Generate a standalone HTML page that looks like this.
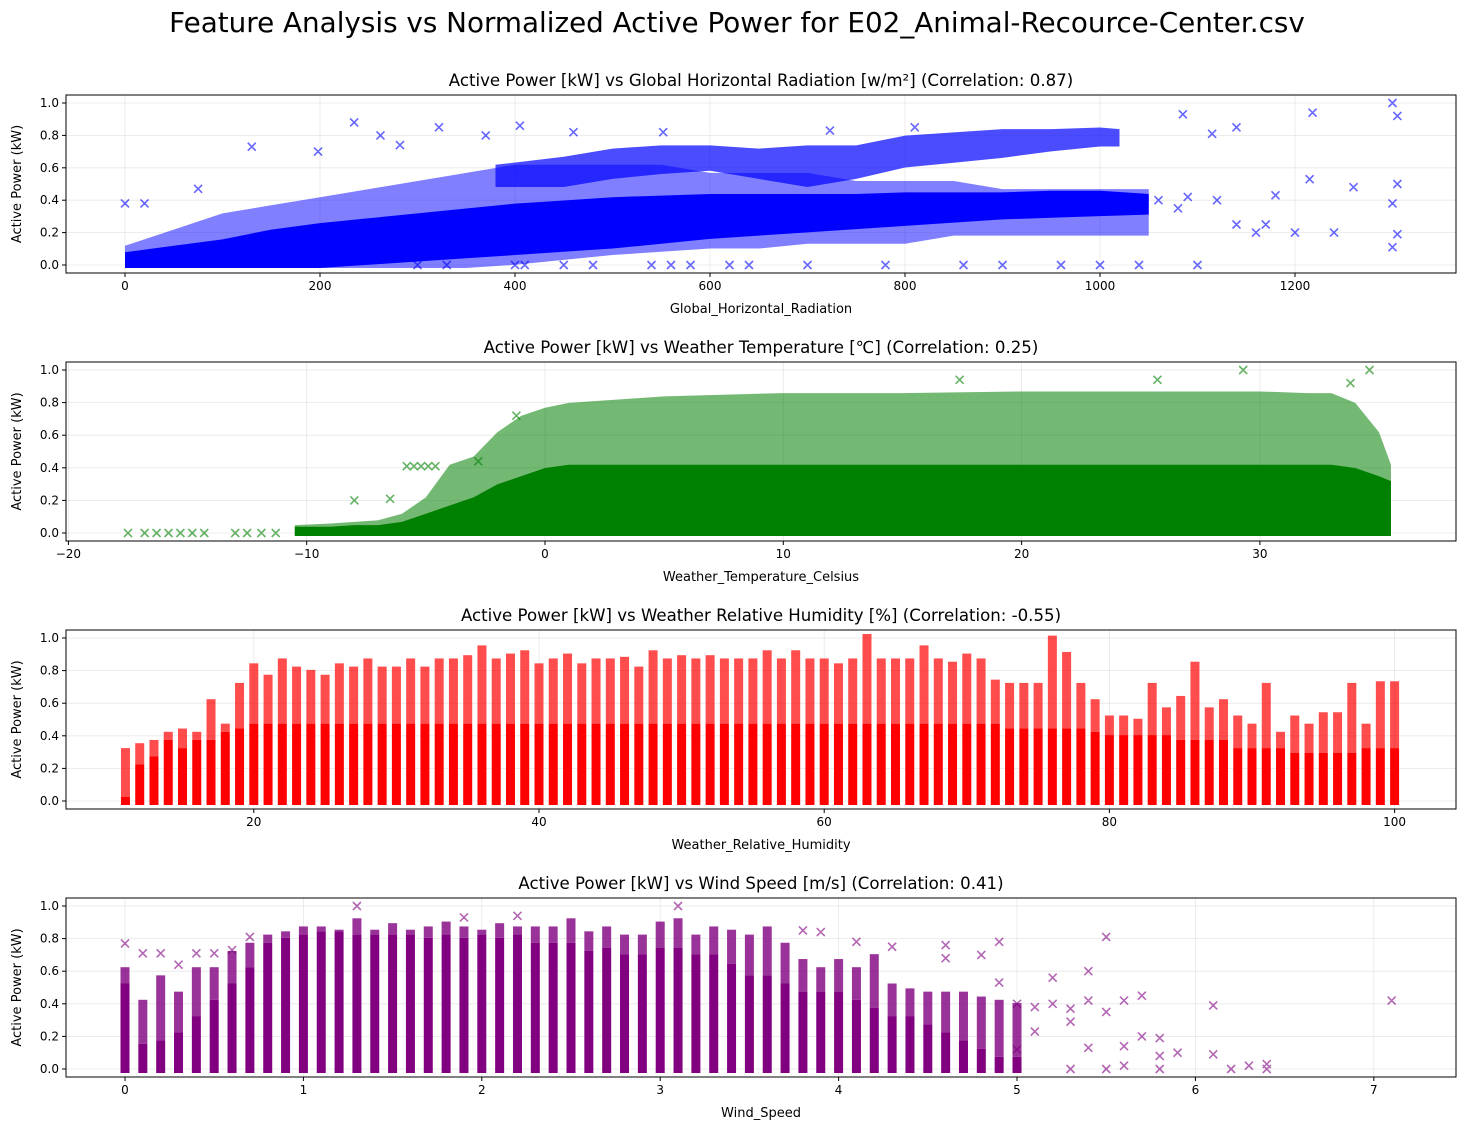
<!DOCTYPE html>
<html><head><meta charset="utf-8">
<style>
html,body{margin:0;padding:0;background:#fff;}
svg text{font-family:"DejaVu Sans","Liberation Sans",sans-serif;fill:#000;}
</style></head>
<body>
<svg id="fig" width="1466" height="1131" viewBox="0 0 1466 1131" xmlns="http://www.w3.org/2000/svg">
<text x="737" y="32" font-size="27.8" text-anchor="middle">Feature Analysis vs Normalized Active Power for E02_Animal-Recource-Center.csv</text>
</svg>
<script>
// ---------- Panel 1: Global Horizontal Radiation ----------
const radBins = [0,50,100,150,200,250,300,350,400,450,500,550,600,650,700,750,800,850,900,950,1000,1050];
const radDenseLo = [0,0,0,0,0,0.02,0.04,0.06,0.08,0.1,0.12,0.15,0.18,0.2,0.22,0.24,0.26,0.28,0.3,0.31,0.32,0.33];
const radDenseHi = [0.06,0.1,0.14,0.2,0.24,0.27,0.3,0.33,0.36,0.38,0.4,0.41,0.42,0.42,0.42,0.42,0.43,0.43,0.43,0.44,0.44,0.42];
const radSparseLo = [0,0,0,0,0,0,0,0,0.02,0.05,0.08,0.1,0.12,0.12,0.15,0.15,0.15,0.2,0.2,0.2,0.2,0.2];
const radSparseHi = [0.1,0.2,0.3,0.35,0.4,0.45,0.5,0.55,0.6,0.6,0.6,0.6,0.55,0.55,0.55,0.5,0.5,0.5,0.45,0.45,0.45,0.45];
const radClusterX = [380,450,500,550,600,650,700,750,800,850,900,950,1000,1020];
const radClusterLo = [0.5,0.5,0.55,0.58,0.6,0.55,0.5,0.55,0.62,0.65,0.68,0.72,0.75,0.75];
const radClusterHi = [0.6,0.65,0.7,0.72,0.72,0.7,0.72,0.72,0.78,0.8,0.82,0.82,0.83,0.82];
const radOutX = [0,20,75,130,198,235,262,282,322,370,405,460,552,723,810,1085,1115,1140,1300,1305,1218,1305,1300,1300,1305,1260,1215,1180,1120,1100,1200,1240,1160,1080,1140,1170,620,640,700,780,860,900,960,1000,1040,450,480,540,560,580,400,410,300,330,1060,1090];
const radOutY = [0.38,0.38,0.47,0.73,0.7,0.88,0.8,0.74,0.85,0.8,0.86,0.82,0.82,0.83,0.85,0.93,0.81,0.85,1.0,0.92,0.94,0.5,0.38,0.11,0.19,0.48,0.53,0.43,0.4,0.0,0.2,0.2,0.2,0.35,0.25,0.25,0,0,0,0,0,0,0,0,0,0,0,0,0,0,0,0,0,0,0.4,0.42];

// ---------- Panel 2: Temperature ----------
const tmpBins = [-10.5,-9,-8,-7,-6,-5,-4,-3,-2,-1,0,1,3,5,10,15,20,25,30,32,33,34,35,35.5];
const tmpDenseTop = [0.02,0.02,0.03,0.03,0.05,0.1,0.15,0.2,0.28,0.33,0.38,0.4,0.4,0.4,0.4,0.4,0.4,0.4,0.4,0.4,0.4,0.38,0.33,0.3];
const tmpSparseTop = [0.03,0.04,0.05,0.06,0.1,0.2,0.4,0.45,0.6,0.7,0.75,0.78,0.8,0.82,0.84,0.84,0.85,0.85,0.85,0.84,0.84,0.78,0.6,0.4];
const tmpOutX = [-17.5,-16.8,-16.3,-15.8,-15.3,-14.8,-14.3,-13,-12.5,-11.9,-11.3,-5.8,-5.5,-5.2,-4.9,-4.6,-8,-6.5,-2.8,-1.2,17.4,25.7,34.6,33.8,29.3];
const tmpOutY = [0,0,0,0,0,0,0,0,0,0,0,0.41,0.41,0.41,0.41,0.41,0.2,0.21,0.44,0.72,0.94,0.94,1.0,0.92,1.0];

// ---------- Panel 3: Humidity ----------
const humCats = [];
for (let h = 11; h <= 100; h++) humCats.push(h);
const humDenseTop = [0,0.2,0.25,0.35,0.3,0.35,0.35,0.4,0.42,0.45,0.45,0.45,0.45,0.45,0.45,0.45,0.45,0.45,0.45,0.45,0.45,0.45,0.45,0.45,0.45,0.45,0.45,0.45,0.45,0.45,0.45,0.45,0.45,0.45,0.45,0.45,0.45,0.45,0.45,0.45,0.45,0.45,0.45,0.45,0.45,0.45,0.45,0.45,0.45,0.45,0.45,0.45,0.45,0.45,0.45,0.45,0.45,0.45,0.45,0.45,0.45,0.45,0.42,0.42,0.42,0.42,0.42,0.42,0.4,0.38,0.38,0.38,0.38,0.38,0.35,0.35,0.35,0.35,0.3,0.3,0.3,0.3,0.27,0.27,0.27,0.27,0.27,0.3,0.3,0.3];
const humSparseTop = [0.3,0.33,0.35,0.4,0.42,0.4,0.6,0.45,0.7,0.82,0.75,0.85,0.8,0.78,0.75,0.82,0.8,0.85,0.8,0.8,0.85,0.8,0.85,0.85,0.87,0.93,0.85,0.88,0.9,0.82,0.85,0.88,0.82,0.85,0.85,0.86,0.8,0.9,0.85,0.87,0.85,0.87,0.85,0.85,0.85,0.9,0.85,0.9,0.85,0.85,0.82,0.85,1.0,0.85,0.85,0.85,0.93,0.85,0.83,0.88,0.85,0.72,0.7,0.7,0.7,0.99,0.89,0.7,0.6,0.5,0.5,0.48,0.7,0.55,0.62,0.83,0.55,0.6,0.5,0.45,0.7,0.4,0.5,0.45,0.52,0.52,0.7,0.45,0.71,0.71];

// ---------- Panel 4: Wind ----------
const windCats = [];
for (let i = 0; i <= 50; i++) windCats.push(i / 10);
const windDenseTop = [0.5,0.13,0.15,0.2,0.3,0.4,0.5,0.6,0.75,0.78,0.8,0.82,0.82,0.8,0.8,0.8,0.8,0.78,0.8,0.78,0.8,0.78,0.8,0.75,0.75,0.75,0.7,0.72,0.68,0.68,0.72,0.72,0.68,0.68,0.62,0.55,0.55,0.5,0.45,0.45,0.45,0.4,0.35,0.3,0.3,0.25,0.2,0.15,0.1,0.05,0.05];
const windSparseTop = [0.6,0.4,0.55,0.45,0.6,0.6,0.7,0.75,0.8,0.82,0.85,0.85,0.83,0.9,0.83,0.87,0.83,0.85,0.88,0.85,0.83,0.87,0.85,0.85,0.85,0.9,0.82,0.85,0.8,0.8,0.88,0.9,0.8,0.85,0.83,0.8,0.85,0.75,0.65,0.6,0.65,0.6,0.68,0.5,0.47,0.45,0.45,0.45,0.42,0.4,0.38];
const windOutX = [0,0.1,0.2,0.3,0.4,0.5,0.6,0.7,1.3,3.1,1.9,2.2,3.8,3.9,4.1,4.3,4.6,4.6,4.8,4.9,4.9,5.0,5.1,5.2,5.2,5.3,5.4,5.4,5.5,5.5,5.6,5.7,5.6,5.8,5.8,5.9,6.1,6.1,6.2,6.3,6.4,6.4,7.1,5.3,5.1,5.0,5.5,5.6,5.7,5.8,5.4,5.3];
const windOutY = [0.77,0.71,0.71,0.64,0.71,0.71,0.73,0.81,1.0,1.0,0.93,0.94,0.85,0.84,0.78,0.75,0.76,0.68,0.7,0.78,0.53,0.4,0.38,0.56,0.4,0.37,0.6,0.42,0.81,0.35,0.42,0.45,0.14,0.19,0.08,0.1,0.39,0.09,0.0,0.02,0.03,0.0,0.42,0.29,0.23,0.12,0.0,0.02,0.2,0.0,0.13,0.0];

const yTicks = [0, 0.2, 0.4, 0.6, 0.8, 1.0];
const yTickLabels = ["0.0","0.2","0.4","0.6","0.8","1.0"];

const NS = "http://www.w3.org/2000/svg";
const svg = document.getElementById('fig');
function mk(tag, attrs, parent) {
  const e = document.createElementNS(NS, tag);
  for (const k in attrs) e.setAttribute(k, attrs[k]);
  (parent || svg).appendChild(e);
  return e;
}
const L = 66, R = 1456;

function makePanel(p) {
  const g = mk('g', {});
  
  
  p.xTicks.forEach(v => {
    const gl = mk('line', {x1: p.x(v), x2: p.x(v), y1: p.top, y2: p.bottom, stroke: '#b0b0b0', 'stroke-opacity': 0.3, 'stroke-width': 0.8}, g);
    
    
  });
  yTicks.forEach(v => {
    const gl = mk('line', {x1: L, x2: R, y1: p.y(v), y2: p.y(v), stroke: '#b0b0b0', 'stroke-opacity': 0.3, 'stroke-width': 0.8}, g);
    
    
  });
  const marks = mk('g', {}, g);
  
  
  p.draw(marks, p);
  if (p.outX) {
    let d = '';
    for (let i = 0; i < p.outX.length; i++) {
      const cx = p.x(p.outX[i]), cy = p.y(p.outY[i]);
      d += `M${cx-4},${cy-4}L${cx+4},${cy+4}M${cx-4},${cy+4}L${cx+4},${cy-4}`;
    }
    const o = mk('path', {d: d, stroke: p.color, 'stroke-opacity': 0.6, 'stroke-width': 1.6, fill: 'none'}, marks);
    
    
  }
  const fr = mk('rect', {x: L, y: p.top, width: R - L, height: p.bottom - p.top, fill: 'none', stroke: '#000', 'stroke-width': 1}, g);
  
  
  p.xTicks.forEach((v, i) => {
    mk('line', {x1: p.x(v), x2: p.x(v), y1: p.bottom, y2: p.bottom + 4, stroke: '#000'}, g);
    const t = mk('text', {x: p.x(v), y: p.bottom + 17, 'font-size': 12, 'text-anchor': 'middle'}, g);
    t.textContent = p.xLabels[i];
    
    
  });
  yTicks.forEach((v, i) => {
    mk('line', {x1: L - 4, x2: L, y1: p.y(v), y2: p.y(v), stroke: '#000'}, g);
    const t = mk('text', {x: L - 7, y: p.y(v) + 4, 'font-size': 12, 'text-anchor': 'end'}, g);
    t.textContent = yTickLabels[i];
    
    
  });
  const title = mk('text', {x: (L + R) / 2, y: p.top - 9, 'font-size': 16.6, 'text-anchor': 'middle'}, g);
  title.textContent = p.title;
  
  
  const xl = mk('text', {x: (L + R) / 2, y: p.bottom + 40, 'font-size': 13, 'text-anchor': 'middle'}, g);
  xl.textContent = p.xTitle;
  
  
  const yc = (p.top + p.bottom) / 2;
  const yl = mk('text', {x: 21, y: yc, 'font-size': 13, 'text-anchor': 'middle', transform: `rotate(-90 21 ${yc})`}, g);
  yl.textContent = 'Active Power (kW)';
  
  
}

function band(parent, p, xs, lo, hi, opacity, name) {
  let pts = [];
  for (let i = 0; i < xs.length; i++) pts.push(`${p.x(xs[i])},${p.y(hi[i]) - 3}`);
  for (let i = xs.length - 1; i >= 0; i--) pts.push(`${p.x(xs[i])},${p.y(lo[i]) + 3}`);
  const e = mk('polygon', {points: pts.join(' '), fill: p.color, 'fill-opacity': opacity, stroke: 'none'}, parent);
  
  
}
function columns(parent, p, cats, dense, sparse, w, sparseOp) {
  for (let i = 0; i < cats.length; i++) {
    const cx = p.x(cats[i]);
    const yd = p.y(dense[i]) - 4, ys = p.y(sparse[i]) - 4, y0 = p.y(0) + 4;
    const s = mk('rect', {x: cx - w / 2, y: ys, width: w, height: Math.max(0, yd - ys), fill: p.color, 'fill-opacity': sparseOp}, parent);
    
    
    const r = mk('rect', {x: cx - w / 2, y: yd, width: w, height: Math.max(0, y0 - yd), fill: p.color}, parent);
    
    
  }
}

makePanel({
  name: 'radiation-panel', top: 95, bottom: 273, color: '#0000ff',
  x: v => 125 + v * 0.975, y: v => 265 - v * 162,
  xTicks: [0,200,400,600,800,1000,1200], xLabels: ['0','200','400','600','800','1000','1200'],
  title: 'Active Power [kW] vs Global Horizontal Radiation [w/m²] (Correlation: 0.87)',
  xTitle: 'Global_Horizontal_Radiation', outX: radOutX, outY: radOutY,
  draw: (g, p) => {
    band(g, p, radBins, radSparseLo, radSparseHi, 0.5, 'sparse-band');
    band(g, p, radClusterX, radClusterLo, radClusterHi, 0.7, 'upper-cluster');
    band(g, p, radBins, radDenseLo, radDenseHi, 1, 'dense-band');
  }
});
makePanel({
  name: 'temperature-panel', top: 362, bottom: 541, color: '#008000',
  x: v => 545 + v * 23.83, y: v => 533 - v * 163,
  xTicks: [-20,-10,0,10,20,30], xLabels: ['−20','−10','0','10','20','30'],
  title: 'Active Power [kW] vs Weather Temperature [℃] (Correlation: 0.25)',
  xTitle: 'Weather_Temperature_Celsius', outX: tmpOutX, outY: tmpOutY,
  draw: (g, p) => {
    const zeros = tmpBins.map(() => 0);
    band(g, p, tmpBins, zeros, tmpSparseTop, 0.55, 'sparse-band');
    band(g, p, tmpBins, zeros, tmpDenseTop, 1, 'dense-band');
  }
});
makePanel({
  name: 'humidity-panel', top: 630, bottom: 809, color: '#ff0000',
  x: v => 539 + (v - 40) * 14.26, y: v => 801 - v * 163,
  xTicks: [20,40,60,80,100], xLabels: ['20','40','60','80','100'],
  title: 'Active Power [kW] vs Weather Relative Humidity [%] (Correlation: -0.55)',
  xTitle: 'Weather_Relative_Humidity',
  draw: (g, p) => columns(g, p, humCats, humDenseTop, humSparseTop, 9, 0.7)
});
makePanel({
  name: 'wind-panel', top: 898, bottom: 1077, color: '#800080',
  x: v => 125 + v * 178.4, y: v => 1069 - v * 163,
  xTicks: [0,1,2,3,4,5,6,7], xLabels: ['0','1','2','3','4','5','6','7'],
  title: 'Active Power [kW] vs Wind Speed [m/s] (Correlation: 0.41)',
  xTitle: 'Wind_Speed', outX: windOutX, outY: windOutY,
  draw: (g, p) => columns(g, p, windCats, windDenseTop, windSparseTop, 9, 0.8)
});
</script>
</body></html>
